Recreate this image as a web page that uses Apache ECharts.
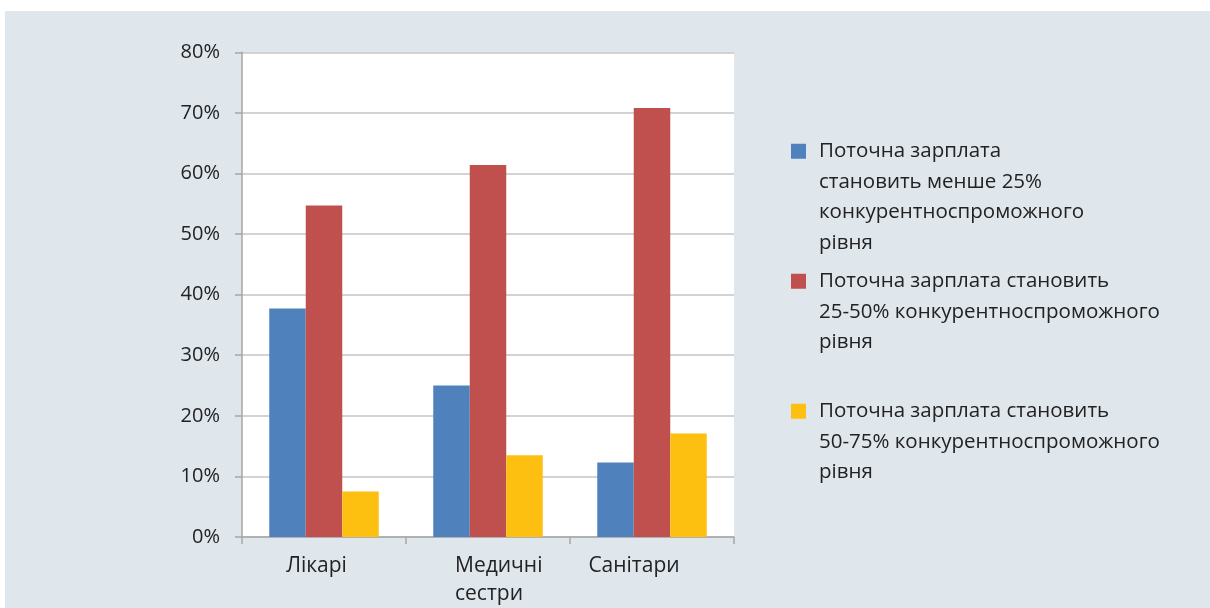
<!DOCTYPE html>
<html>
<head>
<meta charset="utf-8">
<script src="https://cdn.jsdelivr.net/npm/echarts@6/dist/echarts.min.js"></script>
<style>
  html, body { margin: 0; padding: 0; background: #ffffff; }
  #chart { position: absolute; left: 5px; top: 11px; width: 1205px; height: 597px; background: #dfe6ec; }
</style>
</head>
<body>
<div id="chart"></div>
<script>
// Категорії персоналу
const categories = ['Лікарі', 'Медичні\nсестри', 'Санітари'];

// Назви рядів (рядки легенди)
const seriesNames = [
  'Поточна зарплата\nстановить менше 25%\nконкурентноспроможного\nрівня',
  'Поточна зарплата становить\n25-50% конкурентноспроможного\nрівня',
  'Поточна зарплата становить\n50-75% конкурентноспроможного\nрівня'
];

// Частки, %
const below25 = [37.7, 25.0, 12.3];
const from25to50 = [54.7, 61.4, 70.8];
const from50to75 = [7.5, 13.5, 17.1];

// Позначки осі Y
const yTicks = [0, 10, 20, 30, 40, 50, 60, 70, 80];

const colors = ['#4f81bd', '#c0504d', '#fdc010'];
const values = [below25, from25to50, from50to75];
const FONT = 'Open Sans';
const TEXT = '#222222';
const LH = 30.5;
const LEG_FS = 20.5;
const CAT_FS = 21;

const chart = echarts.init(document.getElementById('chart'), null, { renderer: 'canvas' });

// Кожен пункт легенди має власний квадрат кольору перед першим рядком
function legendFor(i, top) {
  const rich = {
    t: { fontFamily: FONT, fontSize: LEG_FS, color: TEXT, lineHeight: LH, align: 'left' },
    gap: { width: 13, lineHeight: LH, align: 'left' },
    ind: { width: 28, lineHeight: LH, align: 'left' }
  };
  rich['sq' + i] = { width: 15, height: 15, backgroundColor: colors[i], lineHeight: LH, align: 'left' };
  return {
    data: [seriesNames[i]],
    orient: 'vertical',
    left: 781,
    top: top,
    padding: 0,
    itemWidth: 0,
    itemHeight: 0,
    selectedMode: false,
    formatter: function (name) {
      return name.split('\n').map(function (line, k) {
        return (k === 0 ? '{sq' + i + '|}{gap|}' : '{ind|}') + '{t|' + line + '}';
      }).join('\n');
    },
    textStyle: { fontFamily: FONT, fontSize: LEG_FS, color: TEXT, lineHeight: LH, rich: rich }
  };
}

// Зсуви підписів категорій
const catRich = {
  c: { fontFamily: FONT, fontSize: CAT_FS, color: TEXT, lineHeight: 28 },
  m: { fontFamily: FONT, fontSize: CAT_FS, color: TEXT, lineHeight: 28, width: 92, align: 'left' },
  p1: { width: 15, lineHeight: 28 },
  p2: { width: 26, lineHeight: 28, align: 'left' },
  p3: { width: 36, lineHeight: 28 }
};

chart.setOption({
  animation: false,
  textStyle: { fontFamily: FONT },
  grid: {
    left: 237, top: 41.3, right: 476, bottom: 70.3,
    show: true, backgroundColor: '#ffffff', borderWidth: 0
  },
  legend: [legendFor(0, 125), legendFor(1, 255), legendFor(2, 385)],
  xAxis: {
    type: 'category',
    data: categories,
    axisLine: { show: true, lineStyle: { color: '#a6a6a6', width: 1.5 } },
    axisTick: { show: true, length: 7, alignWithLabel: false, lineStyle: { color: '#a6a6a6', width: 1.5 } },
    axisLabel: {
      margin: 15,
      interval: 0,
      color: TEXT,
      fontFamily: FONT,
      fontSize: CAT_FS,
      lineHeight: 28,
      formatter: function (v, idx) {
        if (idx === 0) return '{c|' + v + '}{p1|}';
        if (idx === 1) return v.split('\n').map(function (l) { return '{p2|}{m|' + l + '}'; }).join('\n');
        return '{c|' + v + '}{p3|}';
      },
      rich: catRich
    }
  },
  yAxis: {
    type: 'value',
    min: yTicks[0],
    max: yTicks[yTicks.length - 1],
    interval: yTicks[1] - yTicks[0],
    axisLine: { show: true, lineStyle: { color: '#a6a6a6', width: 1.5 } },
    axisTick: { show: true, length: 7, lineStyle: { color: '#a6a6a6', width: 1.5 } },
    splitLine: { show: true, lineStyle: { color: '#c4c4c4', width: 1.5 } },
    axisLabel: {
      margin: 22,
      color: TEXT,
      fontFamily: FONT,
      fontSize: 20,
      formatter: '{value}%'
    }
  },
  series: values.map(function (arr, i) {
    return {
      type: 'bar',
      name: seriesNames[i],
      data: arr,
      barWidth: 36.5,
      barGap: '0%',
      itemStyle: { color: colors[i] }
    };
  })
});
</script>
</body>
</html>
